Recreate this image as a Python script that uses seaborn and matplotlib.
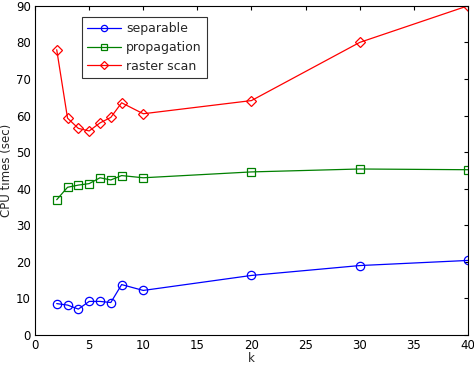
import pandas as pd
import matplotlib
matplotlib.use("Agg")
import matplotlib.pyplot as plt
import seaborn as sns

# data
k = [2, 3, 4, 5, 6, 7, 8, 10, 20, 30, 40]
separable = [8.6, 8.2, 7.1, 9.2, 9.2, 8.9, 13.8, 12.2, 16.3, 19.0, 20.4]
propagation = [37.0, 40.4, 41.0, 41.4, 43.0, 42.4, 43.6, 43.0, 44.6, 45.4, 45.2]
raster_scan = [78.0, 59.3, 56.5, 55.8, 58.0, 59.5, 63.5, 60.5, 64.1, 80.0, 90.0]

series = ["separable", "propagation", "raster scan"]
colors = ["#0000ff", "#008000", "#ff0000"]
markers = ["o", "s", "D"]

data = pd.DataFrame({"k": k * 3,
                     "time": separable + propagation + raster_scan,
                     "method": sum([[s] * len(k) for s in series], [])})

sns.set_style("white")
plt.rcParams["font.family"] = ["DejaVu Sans"]

fig = plt.figure(figsize=(4.74, 3.65), dpi=100)
ax = fig.add_axes([0.074, 0.082, 0.913, 0.902])

for s, c, m in zip(series, colors, markers):
    sns.lineplot(x="k", y="time", data=data[data.method == s], ax=ax,
                 color=c, marker=m, markersize=6 if m != "D" else 5.5,
                 markerfacecolor="none", markeredgecolor=c,
                 markeredgewidth=0.9, linewidth=0.9, label=s)

ax.set_xlim(0, 40)
ax.set_ylim(0, 90)
ax.set_xticks(range(0, 41, 5))
ax.set_yticks(range(0, 91, 10))
ax.tick_params(direction="in", top=True, right=True, labelsize=8.5,
               length=3, width=0.8, colors="black", pad=3)
for sp in ax.spines.values():
    sp.set_color("black")
    sp.set_linewidth(0.8)
ax.set_xlabel("k", fontsize=8.5, labelpad=0)
ax.set_ylabel("CPU times (sec)", fontsize=8.5, labelpad=2)

leg = ax.legend(loc="upper left", bbox_to_anchor=(0.108, 0.967), fontsize=9,
                frameon=True, fancybox=False, edgecolor="black",
                handlelength=2.7, handletextpad=0.4, markerscale=0.75,
                borderpad=0.45, labelspacing=0.45, borderaxespad=0)
leg.get_frame().set_linewidth(0.8)

fig.savefig("out.png", dpi=100)
